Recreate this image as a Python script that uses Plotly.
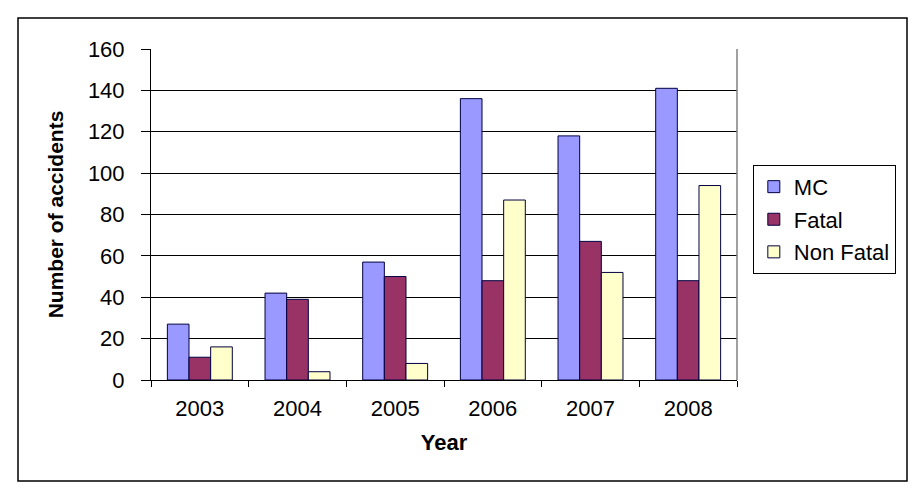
import plotly.graph_objects as go

years = ["2003", "2004", "2005", "2006", "2007", "2008"]
mc = [27, 42, 57, 136, 118, 141]
fatal = [11, 39, 50, 48, 67, 48]
non_fatal = [16, 4, 8, 87, 52, 94]

series = [("MC", mc, "#9999FF"), ("Fatal", fatal, "#993366"), ("Non Fatal", non_fatal, "#FFFFCC")]

FONT = "Liberation Sans, Arial, sans-serif"

fig = go.Figure()
for i, (name, vals, col) in enumerate(series):
    fig.add_trace(go.Bar(
        x=years, y=vals, name=name, legendgroup=str(i),
        marker=dict(color=col, line=dict(color="#000040", width=1)),
    ))

fig.update_layout(
    width=922, height=498,
    margin=dict(l=151, r=185, t=49, b=118, autoexpand=False),
    paper_bgcolor="white", plot_bgcolor="white",
    barmode="group", bargap=0.335, bargroupgap=0,
    font=dict(family=FONT, size=22, color="black"),
    legend=dict(
        x=1.027, y=0.65, xanchor="left", yanchor="top",
        bordercolor="black", borderwidth=1, bgcolor="white",
        font=dict(size=22), tracegroupgap=1, itemwidth=30,
    ),
    xaxis=dict(
        type="category", showgrid=False, showline=True, linecolor="black", linewidth=1,
        ticks="outside", tickson="boundaries", ticklen=6, tickcolor="black",
        ticklabelstandoff=9, tickfont=dict(size=22),
        title=dict(text="<b>Year</b>", font=dict(size=22), standoff=14),
        automargin=False,
    ),
    yaxis=dict(
        range=[0, 160], dtick=20, showgrid=True, gridcolor="black", gridwidth=1,
        showline=True, linecolor="black", linewidth=1,
        ticks="outside", ticklen=9, tickcolor="black", ticklabelstandoff=12,
        tickfont=dict(size=22), zeroline=False,
        title=dict(text="<b>Number of accidents</b>", font=dict(size=21), standoff=18),
        automargin=False,
    ),
)

# right border of plot area (grey)
fig.add_shape(type="line", xref="paper", yref="paper", x0=1, x1=1, y0=0, y1=1,
              line=dict(color="#808080", width=1.5))
# outer chart frame
fig.add_shape(type="rect", xref="paper", yref="paper",
              x0=(18 - 151) / 586, x1=(907 - 151) / 586,
              y0=(380 - 481) / 331, y1=(380 - 18) / 331,
              line=dict(color="black", width=1.5), fillcolor="rgba(0,0,0,0)")

fig.write_html("out.html")
